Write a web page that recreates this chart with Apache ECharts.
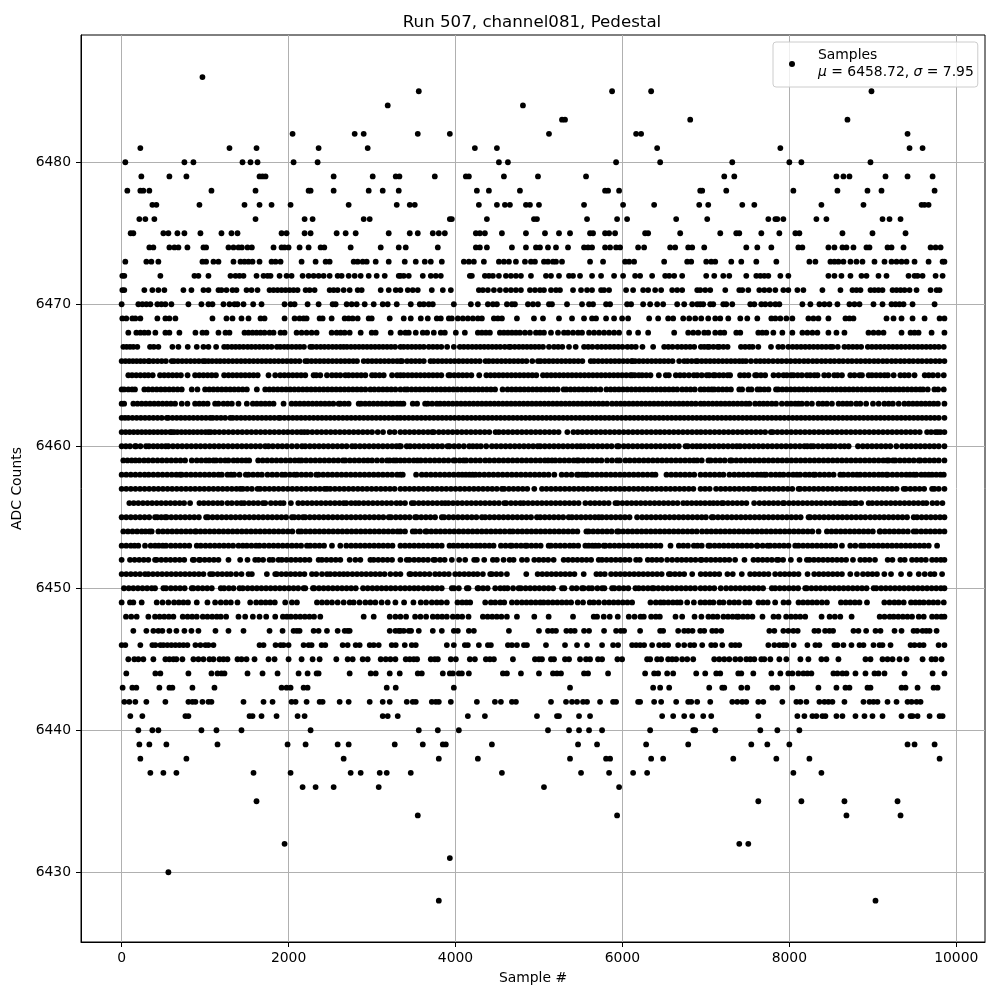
<!DOCTYPE html>
<html><head><meta charset="utf-8">
<style>html,body{margin:0;padding:0;background:#fff}#c{width:1000px;height:1000px}</style>
<script src="https://cdn.jsdelivr.net/npm/echarts@6/dist/echarts.min.js"></script>
</head><body><div id="c"></div>
<script>
const xTicks=[0,2000,4000,6000,8000,10000];
const yTicks=[6430,6440,6450,6460,6470,6480];
const adc6486=[968];
const adc6485=[3560,5876,6344,8984];
const adc6484=[3188,4808];
const adc6483=[5276,5312,6812,8696];
const adc6482=[2048,2792,2900,3548,3932,5120,6164,6224,9416];
const adc6481=[224,1292,1616,2360,2948,4232,4496,6416,7892,9440,9596];
const adc6480=[44,752,860,1448,1544,1628,2060,2348,4520,4628,5924,6452,7316,8000,8144,8972];
const adc6479=[236,572,776,1652,1688,1724,2540,3008,3284,3328,3752,4124,4160,4580,4988,5564,7220,7340,8564,8648,8720,9152,9416,9716];
const adc6478=[68,224,260,332,1076,1604,2240,2264,2540,2960,3128,3320,4256,4400,4772,5792,5828,5960,6932,6956,7244,8048,8576,8936,9104,9740];
const adc6477=[368,416,932,1472,1652,1796,2024,2720,3296,3452,3512,4280,4496,4592,4652,4844,4892,5000,5540,6008,6380,6920,7028,7436,7580,8384,8888,9584,9620,9668];
const adc6476=[212,284,392,1604,2192,2288,2900,2972,3932,3956,4376,4940,4976,5576,5936,6056,6644,7016,7748,7832,7856,7928,8324,8444,9116,9200,9332];
const adc6475=[108,140,500,560,668,752,944,1196,1316,1388,1916,1976,2192,2264,2576,2684,2804,3200,3452,3548,3728,3800,3872,4244,4292,4352,4556,4844,5072,5240,5372,5612,5648,5792,5840,5912,6272,6308,6692,7172,7364,7400,7664,7880,8072,8120,8636,8996,9392];
const adc6474=[332,380,572,632,680,788,980,1012,1280,1340,1400,1440,1508,1560,1820,1916,1952,2000,2132,2240,2384,2428,2744,3104,3320,3404,3788,4244,4292,4376,4676,4844,4964,5012,5108,5204,5348,5540,5588,5636,5792,5852,5924,5972,6188,6260,6572,6632,6788,6836,6980,7484,7616,7784,8108,8156,8468,8540,8636,8684,8768,8924,8960,9176,9224,9368,9692,9752,9812];
const adc6473=[44,296,356,440,968,1012,1100,1160,1340,1424,1472,1520,1568,1652,1796,1844,1904,2156,2324,2444,2492,2780,2828,2888,2936,3044,3200,3392,3524,3632,3704,3836,4100,4160,4220,4340,4520,4580,4640,4724,4832,4904,4952,5060,5108,5168,5204,5276,5612,5768,6032,6080,6140,6500,6776,6824,7004,7064,7112,7304,7424,7604,7844,8240,8312,8492,8540,8588,8648,8732,8804,8876,9020,9140,9224,9284,9344,9404,9500,9668,9836,9858];
const adc6472=[8,32,464,872,920,1040,1304,1364,1412,1460,1616,1700,1748,1784,1892,1976,2036,2168,2240,2300,2360,2420,2492,2588,2636,2720,2792,2864,2960,3056,3152,3320,3340,3380,3440,3608,3704,3764,3824,4172,4196,4352,4400,4448,4520,4604,4664,4724,4784,4904,5084,5144,5240,5360,5408,5492,5636,5744,5900,6008,6152,6212,6356,6512,6560,6620,6716,7004,7100,7208,7280,7484,7604,7652,7700,7748,7892,7988,8468,8540,8624,8732,8864,8924,9068,9164,9428,9500,9536,9596,9752,9836];
const adc6471=[8,32,272,368,440,512,740,836,980,1040,1160,1196,1256,1328,1376,1496,1556,1628,1772,1820,1868,1916,1964,2012,2060,2108,2204,2252,2312,2492,2540,2588,2660,2732,2828,2876,3104,3200,3284,3340,3428,3488,3548,3716,3848,3944,4280,4328,4388,4460,4532,4604,4664,4724,4784,4892,4952,5012,5060,5144,5204,5252,5408,5504,5576,5636,5744,5780,5840,6044,6128,6248,6308,6392,6464,6596,6656,6716,6896,6932,6992,7052,7232,7400,7436,7508,7640,7700,7760,7832,7928,7988,8096,8168,8396,8612,8756,8804,8852,8972,9020,9068,9116,9236,9284,9332,9380,9440,9524,9692,9764,9800];
const adc6470=[0,200,248,296,344,428,476,524,596,800,956,1040,1088,1220,1292,1352,1388,1460,1576,1676,1952,2024,2072,2228,2360,2528,2564,2696,2756,2816,2912,3020,3128,3188,3296,3464,3572,3620,3680,3728,3980,4184,4268,4388,4448,4496,4616,4676,4712,4868,4928,4988,5120,5156,5336,5516,5600,5648,5804,5852,6056,6104,6248,6332,6416,6488,6656,6740,6836,6896,6932,6968,7052,7088,7208,7244,7316,7532,7580,7664,7712,7772,7832,7880,8156,8252,8360,8420,8480,8576,8720,8780,8840,9008,9116,9224,9272,9320,9368,9476,9740];
const adc6469=[8,56,128,164,224,428,524,572,644,1088,1256,1328,1436,1520,1664,1712,1952,2072,2132,2180,2216,2372,2408,2516,2672,2720,2768,2828,2960,2996,3212,3380,3464,3584,3668,3776,3824,3920,3956,4028,4088,4148,4208,4268,4316,4460,4508,4556,4736,4940,5048,5240,5396,5540,5636,5684,5804,5900,5996,6068,6320,6428,6548,6608,6728,6800,6872,6944,7028,7112,7172,7268,7412,7496,7616,7784,7832,7892,7964,8036,8228,8288,8348,8468,8672,8720,8768,9164,9248,9344,9476,9620,9800,9858];
const adc6468=[80,176,224,272,320,404,524,572,692,884,968,1016,1160,1244,1292,1472,1520,1568,1616,1664,1712,1772,1820,1904,1952,2096,2156,2216,2276,2336,2516,2576,2624,2672,2732,2864,2996,3044,3224,3340,3400,3440,3524,3608,3660,3740,3824,3872,4004,4112,4268,4316,4364,4412,4532,4580,4628,4676,4724,4772,4832,4892,4964,5012,5060,5144,5228,5300,5348,5408,5468,5516,5600,5660,5720,5780,5840,5900,5960,6080,6188,6308,6620,6788,6848,6908,6980,7028,7112,7172,7220,7364,7412,7628,7676,7724,7808,7916,8036,8156,8216,8276,8336,8468,8564,8660,8948,9008,9068,9128,9344,9452,9500,9548,9704,9858];
const adc6467=[20,60,100,140,188,340,385,440,608,680,792,900,980,1040,1132,1228,1270,1320,1366,1412,1460,1510,1556,1604,1652,1700,1748,1796,1860,1900,1948,1992,2040,2090,2136,2184,2260,2288,2336,2384,2430,2478,2526,2572,2620,2660,2700,2748,2796,2844,2892,2940,2988,3036,3084,3132,3180,3228,3276,3340,3380,3428,3476,3524,3572,3620,3680,3730,3780,3830,3900,3980,4052,4100,4150,4200,4248,4296,4344,4392,4440,4488,4536,4590,4640,4660,4710,4760,4808,4856,4904,4952,5000,5048,5120,5180,5230,5280,5360,5440,5540,5590,5640,5700,5750,5800,5850,5900,5950,6000,6060,6110,6160,6240,6368,6500,6550,6600,6660,6710,6760,6810,6860,6940,6980,7020,7040,7090,7140,7160,7210,7260,7420,7470,7520,7560,7628,7780,7868,7920,7988,8040,8090,8140,8190,8240,8290,8340,8390,8440,8490,8520,8580,8660,8710,8760,8810,8860,8940,8990,9040,9090,9140,9190,9240,9290,9340,9390,9440,9490,9540,9590,9640,9690,9740,9790,9850];
const adc6466=[0,45,90,135,180,225,270,320,332,380,430,480,530,600,628,675,725,775,825,875,925,975,1000,1040,1085,1135,1180,1230,1280,1330,1380,1430,1480,1530,1580,1630,1680,1730,1780,1830,1880,1930,1980,2030,2080,2130,2200,2228,2275,2325,2375,2425,2475,2525,2575,2625,2675,2725,2775,2820,2900,2950,3000,3050,3100,3150,3200,3250,3300,3340,3360,3420,3470,3520,3570,3620,3700,3740,3790,3840,3890,3940,3990,4040,4090,4140,4190,4240,4290,4360,4400,4450,4500,4550,4600,4650,4700,4750,4800,4850,4920,4988,5020,5070,5120,5170,5220,5270,5320,5370,5420,5470,5520,5620,5660,5710,5760,5810,5860,5910,5960,6010,6060,6110,6120,6152,6200,6250,6300,6350,6400,6450,6500,6550,6600,6680,6740,6780,6830,6880,6900,6950,7000,7050,7100,7150,7200,7250,7300,7350,7400,7440,7480,7540,7600,7650,7700,7750,7805,7860,7910,7965,8015,8070,8120,8175,8225,8280,8330,8385,8435,8490,8540,8595,8645,8700,8750,8805,8855,8910,8960,9015,9065,9120,9170,9225,9275,9330,9380,9435,9485,9540,9590,9645,9695,9750,9800,9858];
const adc6465=[80,125,175,225,275,320,372,460,510,560,610,660,710,790,880,930,980,1030,1080,1130,1228,1280,1330,1380,1430,1480,1530,1580,1630,1760,1840,1900,1950,2000,2050,2100,2150,2200,2300,2332,2380,2460,2520,2570,2620,2680,2720,2770,2820,2870,2920,3000,3040,3090,3140,3240,3300,3340,3380,3430,3480,3530,3580,3630,3680,3730,3780,3830,3916,3936,3986,4036,4086,4136,4190,4284,4370,4420,4470,4520,4570,4620,4670,4720,4770,4820,4870,4920,4968,5048,5096,5146,5196,5246,5296,5346,5396,5446,5496,5546,5596,5646,5696,5746,5796,5846,5896,5946,5996,6046,6096,6116,6148,6196,6236,6286,6336,6436,6520,6556,6640,6690,6740,6796,6856,6896,6950,7010,7040,7090,7110,7160,7210,7260,7290,7410,7460,7510,7590,7610,7660,7710,7810,7870,7930,7970,8020,8050,8100,8150,8210,8250,8300,8338,8418,8470,8538,8578,8630,8730,8780,8840,8870,8950,8990,9040,9090,9140,9180,9250,9330,9380,9430,9500,9622,9670,9720,9780,9850];
const adc6464=[0,30,80,125,160,272,320,370,420,470,520,570,620,670,720,840,908,1000,1050,1100,1150,1200,1250,1300,1350,1400,1450,1500,1620,1720,1770,1820,1870,1920,1970,2020,2070,2120,2170,2220,2270,2320,2370,2420,2470,2520,2570,2620,2670,2720,2770,2820,2870,2920,2980,3028,3080,3130,3180,3230,3280,3340,3392,3424,3474,3524,3574,3624,3674,3724,3774,3824,3874,3924,3974,4024,4074,4124,4174,4224,4274,4324,4374,4424,4474,4564,4624,4674,4724,4774,4824,4874,4924,4974,5024,5074,5124,5174,5224,5296,5328,5378,5428,5478,5528,5578,5628,5678,5736,5808,5858,5908,5958,6008,6058,6108,6158,6208,6258,6308,6358,6408,6458,6508,6558,6608,6656,6716,6766,6816,6866,6936,6980,7030,7070,7100,7150,7200,7250,7300,7400,7434,7510,7546,7618,7650,7700,7750,7840,7866,7916,7966,8016,8066,8116,8166,8216,8266,8316,8366,8416,8466,8516,8566,8616,8666,8716,8766,8816,8866,8916,8966,9016,9066,9116,9166,9216,9266,9316,9366,9416,9466,9516,9566,9602,9658,9738,9782,9850];
const adc6463=[0,30,140,190,240,290,340,390,440,490,540,590,640,720,788,880,930,980,1030,1120,1160,1220,1270,1320,1400,1500,1572,1620,1670,1720,1770,1820,1940,2036,2086,2136,2186,2236,2286,2336,2386,2436,2486,2536,2600,2620,2670,2720,2840,2868,2918,2968,3018,3068,3118,3168,3220,3252,3300,3340,3376,3488,3540,3636,3668,3720,3776,3816,3866,3916,3966,4016,4066,4116,4166,4216,4266,4316,4366,4416,4466,4516,4566,4616,4666,4716,4766,4816,4866,4916,4966,5016,5066,5116,5166,5216,5266,5316,5366,5416,5466,5516,5566,5616,5666,5716,5766,5816,5876,5928,5978,6028,6078,6128,6178,6228,6278,6328,6378,6428,6478,6528,6578,6628,6678,6728,6778,6828,6878,6936,6980,7030,7080,7130,7180,7230,7280,7330,7380,7430,7480,7522,7590,7642,7690,7738,7790,7840,7910,7970,8020,8070,8110,8150,8210,8270,8350,8400,8450,8510,8590,8640,8690,8738,8802,8850,8920,9002,9070,9138,9190,9240,9310,9378,9430,9480,9530,9580,9630,9680,9730,9780,9858];
const adc6462=[0,40,80,130,180,230,280,330,380,430,480,540,560,610,660,710,760,810,860,910,960,1010,1060,1092,1140,1190,1240,1300,1332,1380,1430,1480,1530,1580,1630,1680,1730,1780,1830,1880,1900,1950,2000,2050,2100,2150,2200,2250,2300,2350,2400,2450,2500,2550,2600,2650,2700,2750,2800,2850,2900,2950,3000,3050,3100,3150,3200,3250,3300,3340,3390,3440,3490,3540,3590,3640,3690,3740,3790,3840,3890,3940,3990,4040,4090,4140,4190,4240,4290,4340,4390,4440,4490,4540,4590,4640,4690,4740,4790,4840,4890,4940,4990,5040,5090,5140,5190,5240,5290,5340,5390,5440,5490,5540,5590,5640,5690,5740,5790,5840,5890,5940,5990,6040,6090,6140,6190,6240,6290,6340,6390,6440,6490,6540,6590,6640,6690,6740,6790,6840,6890,6940,6990,7040,7090,7140,7190,7240,7290,7340,7390,7440,7490,7540,7590,7640,7690,7740,7790,7840,7890,7940,7990,8040,8090,8140,8190,8240,8290,8340,8390,8440,8490,8540,8590,8640,8690,8740,8790,8840,8890,8940,8990,9040,9090,9140,9190,9240,9290,9340,9390,9440,9490,9540,9590,9640,9690,9740,9790,9858];
const adc6461=[0,48,96,144,192,240,288,336,384,432,480,528,580,600,628,668,716,764,812,860,908,956,1004,1040,1068,1116,1170,1225,1280,1335,1390,1445,1500,1555,1610,1665,1720,1775,1830,1885,1940,1990,2045,2100,2150,2188,2228,2284,2340,2395,2450,2505,2560,2615,2670,2725,2780,2835,2890,2945,3000,3068,3132,3212,3270,3340,3395,3450,3505,3560,3615,3670,3720,3740,3800,3855,3910,3965,4020,4075,4130,4185,4240,4295,4350,4405,4480,4520,4575,4630,4685,4740,4795,4850,4905,4960,5015,5070,5125,5180,5235,5340,5412,5465,5520,5575,5630,5685,5740,5795,5850,5905,5960,6015,6070,6125,6180,6235,6290,6345,6400,6452,6505,6560,6615,6670,6725,6780,6835,6890,6940,6995,7050,7105,7160,7215,7270,7325,7380,7435,7490,7545,7600,7655,7710,7778,7802,7857,7912,7967,8022,8077,8132,8187,8242,8297,8352,8407,8462,8517,8572,8627,8682,8737,8792,8847,8902,8957,9012,9067,9122,9177,9232,9287,9342,9397,9452,9507,9562,9650,9698,9750,9778,9810,9858];
const adc6460=[0,50,100,160,172,225,292,328,380,430,480,528,560,615,670,725,780,835,890,945,1000,1055,1110,1165,1220,1275,1330,1385,1440,1495,1550,1605,1660,1720,1760,1812,1870,1925,1980,2040,2100,2160,2200,2255,2310,2365,2420,2475,2530,2585,2640,2695,2760,2800,2855,2910,2965,3020,3075,3130,3185,3240,3292,3328,3345,3416,3456,3510,3565,3620,3675,3730,3785,3840,3904,3928,3985,4040,4100,4164,4208,4256,4304,4368,4436,4490,4545,4600,4655,4710,4765,4820,4875,4930,4984,5016,5070,5125,5180,5235,5290,5345,5400,5455,5500,5544,5596,5650,5705,5760,5815,5870,5936,5956,6016,6070,6125,6180,6235,6290,6345,6400,6455,6510,6565,6620,6675,6756,6784,6840,6890,6936,6990,7045,7100,7155,7210,7265,7320,7370,7410,7465,7520,7575,7630,7685,7740,7795,7850,7905,7960,8015,8070,8125,8180,8215,8258,8290,8345,8400,8455,8500,8550,8610,8660,8710,8822,8880,8935,8990,9045,9100,9155,9210,9282,9350,9405,9460,9515,9570,9625,9680,9735,9790,9858];
const adc6459=[20,70,120,165,212,268,320,375,430,485,540,595,650,705,760,840,900,955,1010,1050,1100,1132,1185,1240,1280,1340,1388,1440,1490,1528,1636,1690,1745,1800,1855,1910,1965,2020,2075,2124,2156,2210,2265,2320,2375,2430,2485,2540,2595,2652,2680,2735,2790,2845,2900,2950,3000,3060,3120,3180,3212,3260,3292,3340,3390,3445,3500,3544,3584,3640,3695,3750,3805,3860,3915,3976,3996,4050,4096,4128,4185,4240,4295,4356,4408,4465,4520,4575,4630,4685,4740,4795,4850,4905,4960,5015,5070,5110,5156,5196,5250,5305,5360,5415,5456,5476,5530,5585,5640,5695,5748,5816,5875,5936,5968,6036,6088,6145,6200,6255,6310,6365,6420,6475,6530,6585,6640,6695,6750,6805,6856,6896,6950,7030,7058,7115,7170,7225,7290,7310,7365,7420,7475,7530,7585,7640,7695,7750,7805,7860,7915,7970,8025,8080,8135,8190,8245,8300,8355,8410,8465,8520,8575,8630,8685,8740,8795,8850,8905,8960,9015,9070,9125,9170,9190,9242,9270,9325,9380,9435,9490,9550,9570,9625,9680,9735,9790,9858];
const adc6458=[0,55,110,165,220,275,324,380,435,490,545,600,655,700,720,775,830,885,940,995,1050,1105,1160,1200,1268,1310,1348,1412,1488,1520,1575,1630,1680,1748,1805,1860,1920,1960,2015,2068,2100,2155,2210,2265,2332,2360,2415,2470,2525,2580,2635,2690,2745,2800,2855,2910,2965,3020,3075,3130,3185,3240,3300,3340,3368,3528,3596,3650,3705,3760,3815,3870,3925,3980,4035,4080,4124,4168,4205,4240,4288,4345,4400,4455,4510,4565,4620,4675,4730,4785,4840,4895,4950,5005,5060,5115,5184,5272,5330,5390,5456,5476,5520,5556,5584,5640,5695,5750,5805,5860,5915,5970,6025,6080,6135,6190,6245,6300,6355,6396,6528,6585,6640,6695,6750,6805,6860,6936,6994,7050,7105,7162,7210,7282,7340,7395,7450,7505,7560,7615,7660,7698,7722,7780,7835,7885,7930,7990,8045,8090,8130,8190,8240,8290,8310,8365,8420,8475,8530,8610,8650,8705,8760,8810,8850,8905,8960,9015,9070,9115,9162,9178,9235,9290,9345,9400,9445,9490,9522,9580,9625,9670,9710,9760,9810,9850];
const adc6457=[0,55,110,165,220,275,330,385,440,495,550,605,660,715,770,825,880,935,990,1045,1100,1155,1210,1265,1320,1375,1420,1452,1505,1560,1628,1660,1715,1770,1825,1880,1935,1990,2045,2100,2155,2210,2265,2320,2375,2430,2460,2500,2555,2610,2665,2720,2775,2830,2885,2940,2995,3050,3105,3160,3215,3270,3340,3395,3450,3505,3560,3615,3670,3725,3780,3835,3890,3945,4000,4055,4110,4165,4220,4275,4330,4385,4440,4495,4556,4584,4640,4695,4750,4805,4860,4944,5036,5090,5145,5200,5255,5310,5365,5420,5475,5530,5585,5640,5695,5750,5805,5860,5915,5970,6025,6080,6135,6190,6245,6300,6355,6410,6465,6520,6575,6630,6685,6740,6795,6850,6936,6990,7045,7122,7178,7233,7288,7343,7398,7453,7508,7562,7594,7650,7705,7760,7815,7870,7925,7980,8035,8110,8130,8185,8240,8295,8350,8405,8460,8515,8570,8625,8680,8735,8790,8845,8900,8955,9010,9065,9120,9175,9230,9285,9370,9394,9450,9505,9560,9615,9710,9738,9790,9858];
const adc6456=[92,145,200,255,310,365,420,475,530,585,640,695,748,820,932,985,1040,1095,1150,1200,1268,1320,1380,1432,1468,1525,1580,1635,1692,1720,1788,1845,1900,1940,2028,2116,2170,2225,2280,2335,2390,2445,2500,2555,2610,2660,2692,2750,2800,2844,2900,2955,3010,3065,3120,3175,3230,3292,3340,3395,3476,3504,3560,3615,3670,3725,3780,3835,3876,3916,3970,4025,4080,4135,4190,4245,4300,4355,4410,4465,4520,4584,4608,4665,4720,4776,4816,4870,4925,4980,5035,5090,5145,5200,5255,5310,5365,5420,5475,5556,5616,5670,5725,5780,5835,5916,5944,6000,6055,6110,6165,6220,6275,6330,6385,6440,6495,6550,6605,6660,6728,6776,6830,6885,6936,6990,7045,7090,7138,7190,7210,7265,7320,7375,7430,7485,7578,7642,7700,7755,7810,7865,7922,7938,7995,8050,8105,8160,8215,8270,8325,8380,8435,8490,8545,8600,8642,8678,8730,8778,8802,8860,8950,8994,9050,9105,9160,9215,9270,9325,9380,9435,9490,9545,9600,9642,9714,9770,9834];
const adc6455=[0,55,110,165,220,275,330,400,428,475,520,540,595,650,705,760,815,870,925,1012,1036,1090,1145,1200,1255,1310,1365,1420,1475,1530,1585,1640,1695,1750,1805,1860,1915,1970,2040,2068,2120,2172,2200,2255,2310,2365,2420,2475,2530,2585,2640,2695,2750,2805,2860,2915,2970,3025,3080,3135,3200,3228,3285,3340,3395,3450,3516,3536,3590,3645,3700,3755,3836,3864,3920,3975,4030,4085,4140,4195,4250,4316,4356,4410,4465,4520,4575,4630,4685,4740,4795,4850,4905,4976,5016,5070,5125,5180,5235,5290,5356,5396,5450,5505,5560,5615,5670,5716,5756,5810,5865,5920,5975,6030,6085,6176,6236,6290,6345,6400,6455,6510,6565,6620,6675,6730,6785,6840,6896,6950,7000,7070,7090,7145,7200,7255,7310,7365,7420,7475,7530,7585,7640,7695,7750,7805,7860,7915,7970,8025,8080,8135,8230,8250,8305,8360,8415,8470,8525,8580,8635,8690,8745,8800,8855,8910,8970,9025,9080,9135,9190,9245,9300,9355,9410,9490,9530,9585,9640,9695,9750,9805,9858];
const adc6454=[20,75,130,185,240,285,332,360,440,495,550,605,660,715,770,825,880,892,945,1000,1055,1110,1165,1220,1275,1330,1385,1440,1495,1550,1605,1660,1715,1770,1825,1880,1935,1990,2045,2120,2152,2205,2260,2315,2370,2425,2480,2535,2590,2645,2700,2755,2810,2865,2920,2975,3030,3085,3140,3195,3250,3305,3340,3395,3488,3520,3575,3640,3656,3710,3765,3820,3875,3930,3985,4040,4095,4150,4205,4260,4315,4370,4425,4480,4535,4590,4648,4688,4745,4800,4855,4910,4965,5020,5075,5130,5185,5240,5295,5350,5405,5460,5568,5596,5650,5705,5760,5815,5870,5936,5956,6010,6065,6120,6175,6230,6285,6340,6395,6450,6505,6560,6615,6670,6725,6780,6835,6890,6954,7010,7065,7120,7175,7230,7285,7340,7395,7450,7505,7560,7615,7670,7725,7780,7835,7890,7945,8000,8055,8110,8165,8220,8275,8350,8450,8505,8560,8615,8670,8725,8780,8835,8890,8945,9000,9082,9090,9145,9200,9255,9310,9365,9420,9490,9522,9580,9635,9690,9745,9800,9858];
const adc6453=[0,55,110,155,200,280,348,400,445,492,532,590,645,700,755,810,900,948,1005,1060,1115,1170,1225,1280,1335,1400,1452,1500,1555,1610,1652,1708,1765,1820,1875,1930,1985,2040,2095,2150,2220,2260,2315,2370,2425,2520,2620,2692,2750,2805,2860,2915,2970,3025,3080,3135,3190,3245,3340,3395,3450,3505,3560,3615,3670,3725,3780,3835,3928,3976,4030,4085,4140,4195,4248,4296,4350,4405,4456,4544,4600,4656,4676,4730,4785,4836,4856,4910,4965,5020,5116,5144,5200,5255,5310,5368,5416,5470,5556,5596,5640,5676,5716,5776,5796,5850,5905,5960,6015,6070,6125,6180,6235,6290,6345,6400,6455,6576,6676,6730,6785,6856,6900,6950,7030,7050,7105,7160,7215,7270,7325,7380,7435,7490,7545,7610,7618,7680,7738,7770,7825,7880,7935,7990,8070,8110,8165,8220,8275,8330,8385,8440,8495,8550,8630,8730,8790,8858,8898,8955,9010,9065,9120,9175,9230,9285,9340,9395,9450,9505,9560,9615,9670,9770];
const adc6452=[0,100,155,210,265,320,400,420,475,530,585,640,695,750,852,868,928,940,995,1050,1105,1160,1280,1420,1508,1600,1640,1695,1772,1812,1880,1920,1975,2030,2085,2140,2195,2250,2360,2400,2455,2510,2565,2620,2732,2800,2860,2980,3020,3075,3130,3185,3240,3340,3416,3448,3505,3560,3615,3670,3736,3756,3815,3870,3956,4044,4116,4224,4256,4344,4448,4496,4576,4648,4696,4796,4856,4944,5000,5055,5110,5176,5296,5350,5405,5460,5515,5570,5625,5716,5756,5810,5865,5920,5975,6030,6085,6164,6208,6304,6356,6410,6465,6536,6596,6656,6710,6765,6820,6875,6936,6950,7005,7060,7115,7170,7225,7280,7350,7462,7570,7625,7680,7735,7790,7850,7870,7925,8018,8122,8210,8242,8295,8350,8405,8460,8515,8570,8625,8680,8762,8850,8905,8960,9026,9178,9235,9330,9382,9470,9525,9580,9635,9710,9762,9815,9858];
const adc6451=[0,55,110,165,220,280,320,375,430,485,540,595,650,705,760,815,870,925,980,1060,1092,1150,1205,1260,1308,1372,1436,1520,1560,1740,1840,1860,1915,1970,2025,2080,2135,2190,2280,2332,2400,2460,2500,2555,2610,2660,2708,2765,2820,2875,2930,2985,3040,3095,3150,3220,3284,3340,3448,3464,3520,3575,3630,3688,3756,3808,3865,3920,3996,4048,4105,4160,4215,4264,4328,4416,4436,4490,4545,4616,4848,4984,5040,5095,5150,5205,5260,5315,5370,5425,5536,5688,5736,5788,5864,5920,5975,6030,6085,6140,6195,6250,6305,6360,6415,6470,6556,6576,6630,6685,6740,6836,6938,6995,7050,7105,7160,7258,7322,7430,7530,7585,7640,7695,7750,7830,7890,7945,8000,8055,8110,8218,8298,8355,8410,8465,8520,8575,8630,8730,8810,8882,8940,8995,9050,9138,9218,9338,9442,9550,9622,9690,9738,9830];
const adc6450=[28,85,140,195,250,305,360,400,500,532,590,645,700,755,840,860,915,970,1025,1080,1188,1228,1285,1340,1412,1452,1510,1565,1620,1675,1730,1785,1840,1895,1950,2005,2060,2115,2180,2200,2292,2308,2365,2420,2475,2530,2585,2640,2695,2750,2805,2892,2948,3005,3060,3115,3170,3225,3280,3340,3395,3450,3505,3556,3616,3670,3725,3780,3835,3956,3984,4040,4136,4156,4264,4276,4330,4385,4476,4536,4584,4624,4690,4756,4784,4840,4895,4950,5005,5060,5115,5170,5276,5304,5396,5450,5516,5536,5596,5636,5700,5756,5784,5876,5904,5960,6015,6070,6156,6196,6250,6305,6356,6376,6430,6485,6540,6595,6650,6705,6760,6815,6870,6936,6990,7045,7100,7178,7242,7300,7355,7410,7465,7520,7575,7630,7685,7790,7830,7885,7940,7995,8050,8105,8190,8210,8265,8320,8375,8430,8485,8540,8595,8650,8705,8760,8815,8870,8925,9010,9042,9100,9155,9210,9265,9320,9375,9430,9485,9540,9595,9650,9705,9760,9815,9858];
const adc6449=[0,100,140,240,420,490,560,628,685,740,795,900,1028,1120,1188,1250,1308,1388,1540,1612,1670,1725,1780,1835,1960,2040,2100,2340,2400,2460,2520,2588,2660,2732,2780,2850,2920,2980,3040,3115,3188,3280,3384,3496,3584,3648,3716,3775,3830,3896,4024,4080,4130,4176,4356,4424,4476,4536,4584,4676,4736,4795,4850,4905,4960,5016,5056,5110,5165,5220,5275,5330,5385,5464,5528,5608,5656,5716,5784,5840,5895,5950,6005,6060,6116,6336,6400,6456,6496,6550,6605,6656,6696,6776,6856,6936,6990,7045,7090,7162,7210,7282,7340,7395,7470,7522,7630,7685,7740,7830,7930,7990,8110,8165,8220,8275,8330,8390,8450,8618,8675,8730,8785,8840,8930,9138,9200,9258,9310,9370,9458,9510,9560,9610,9670,9725,9780,9850];
const adc6448=[52,115,180,320,400,455,510,565,620,732,790,845,900,972,1028,1085,1140,1188,1252,1400,1480,1572,1652,1732,1840,1932,1980,2028,2085,2140,2195,2250,2305,2380,2900,3020,3212,3280,3340,3408,3516,3580,3648,3728,3785,3840,3896,3968,4025,4080,4156,4328,4385,4440,4495,4550,4616,4736,4944,5116,5408,5656,5696,5776,5848,5944,6076,6145,6216,6256,6344,6400,6448,6636,6716,6864,6946,7030,7085,7138,7210,7265,7320,7370,7390,7445,7500,7558,7678,7810,7870,7962,8020,8075,8130,8190,8386,8482,8545,8610,8746,9082,9140,9202,9250,9305,9360,9415,9470,9550,9610,9710,9765,9820,9858];
const adc6447=[140,296,380,440,488,572,656,752,836,920,1124,1280,1460,1772,1928,2060,2100,2132,2300,2360,2460,2588,2672,2708,2732,3212,3280,3320,3340,3380,3440,3468,3560,3728,3836,3980,4028,4160,4220,4640,5000,5108,5160,5204,5328,5380,5428,5540,5600,5780,5924,5980,6020,6212,6452,6488,6668,6740,6788,6840,6932,6980,7076,7124,7184,7760,7820,7928,7988,8048,8100,8300,8348,8428,8480,8524,8768,8828,8920,9032,9092,9260,9344,9488,9532,9596,9640,9680,9764];
const adc6446=[0,44,224,368,404,464,500,548,596,644,692,740,788,884,944,1004,1040,1100,1652,1700,1844,1904,1940,2000,2180,2240,2276,2396,2440,2648,2708,2804,2852,2972,3020,3080,3236,3284,3392,3476,3524,3896,3980,4112,4148,4280,4388,4424,4628,4676,4736,4820,4856,5084,5312,5456,5576,5756,5888,5948,6116,6164,6212,6260,6356,6440,6500,6548,6668,6740,6812,6860,6956,7064,7112,7196,7304,7352,7400,7748,7820,7880,7928,7964,8052,8216,8312,8360,8540,8576,8648,8744,8840,8888,9008,9080,9116,9212,9452,9500,9560,9608,9788,9858];
const adc6445=[80,152,200,260,380,524,572,620,656,728,860,920,980,1052,1100,1172,1220,1268,1388,1436,1496,1592,1760,1832,2000,2156,2288,2372,2572,2708,2768,2888,2948,3104,3164,3220,3280,3404,3452,3500,3540,3704,3752,3788,3944,4004,4172,4232,4364,4412,4460,4688,4952,5000,5036,5144,5180,5312,5360,5492,5564,5612,5708,5756,5940,5996,6296,6332,6416,6464,6548,6596,6644,6716,6776,6848,7100,7160,7220,7280,7352,7412,7484,7532,7580,7664,7700,7772,7880,7964,8132,8228,8384,8444,8588,8912,8972,9116,9176,9236,9320,9404,9596,9704,9752,9824];
const adc6444=[56,404,464,800,1076,1148,1196,1232,1508,1688,1868,2120,2228,2336,2360,2732,2984,3044,3212,3332,3548,3596,3848,3932,3968,4040,4076,4160,4568,4616,4784,5000,5168,5216,5264,5540,5588,5828,6272,6380,6428,6536,6608,6884,6992,7124,7172,7388,7424,7568,7784,7892,7988,8036,8108,8168,8216,8264,8528,8576,8636,8684,8792,8912,9020,9068,9140,9380,9716,9858];
const adc6443=[12,128,176,452,572,608,848,1112,1916,1976,2024,2180,2228,3176,3284,3980,5372,6368,6452,6560,7040,7196,7220,7424,7496,7796,7856,8036,8348,8564,8672,8720,8936,8972,9344,9392,9536,9728,9776];
const adc6442=[32,92,164,296,524,800,848,884,968,1040,1076,1460,1700,1808,2036,2084,2216,2372,2408,2612,2720,2972,3128,3212,3416,3488,3524,3716,3764,3800,3944,4256,4472,4544,4676,4724,5144,5324,5396,5456,5528,5576,5732,5888,5924,6188,6212,6380,6464,6644,6788,6824,6896,7052,7316,7376,7436,7484,7628,7688,7916,8084,8132,8204,8360,8420,8468,8516,8660,8888,8960,9008,9056,9176,9284,9416,9464,9524,9572];
const adc6441=[104,248,764,800,1532,1568,1676,1856,2108,2192,3128,3188,3308,4148,4352,4976,5216,5240,5480,5612,6476,6608,6740,6836,6968,7064,7628,8096,8180,8276,8324,8396,8432,8564,8636,8792,8900,8996,9116,9344,9452,9476,9536,9680,9800,9836];
const adc6440=[200,368,440,956,1136,1436,2264,3560,3788,4040,5108,5360,5480,5600,5756,6332,6848,6872,7112,7652,7856,8120];
const adc6439=[212,332,536,1148,1988,2204,2588,2720,3272,3608,3848,3884,4436,5468,5696,6284,6788,7544,7736,8000,9416,9500,9740];
const adc6438=[224,776,2660,3800,4268,5372,5804,5852,6344,6488,7328,7844,8240,9800];
const adc6437=[344,500,656,1580,2024,2744,2864,3092,3176,3464,4556,5504,5840,6128,6296,8048,8384];
const adc6436=[2168,2324,2540,3080,5060,5960];
const adc6435=[1616,7628,8144,8660,9296];
const adc6434=[3548,5936,8684,9332];
const adc6432=[1952,7400,7508];
const adc6431=[3932];
const adc6430=[560];
const adc6428=[3800,9032];

const levels=[[6486,adc6486],[6485,adc6485],[6484,adc6484],[6483,adc6483],[6482,adc6482],[6481,adc6481],[6480,adc6480],[6479,adc6479],[6478,adc6478],[6477,adc6477],[6476,adc6476],[6475,adc6475],[6474,adc6474],[6473,adc6473],[6472,adc6472],[6471,adc6471],[6470,adc6470],[6469,adc6469],[6468,adc6468],[6467,adc6467],[6466,adc6466],[6465,adc6465],[6464,adc6464],[6463,adc6463],[6462,adc6462],[6461,adc6461],[6460,adc6460],[6459,adc6459],[6458,adc6458],[6457,adc6457],[6456,adc6456],[6455,adc6455],[6454,adc6454],[6453,adc6453],[6452,adc6452],[6451,adc6451],[6450,adc6450],[6449,adc6449],[6448,adc6448],[6447,adc6447],[6446,adc6446],[6445,adc6445],[6444,adc6444],[6443,adc6443],[6442,adc6442],[6441,adc6441],[6440,adc6440],[6439,adc6439],[6438,adc6438],[6437,adc6437],[6436,adc6436],[6435,adc6435],[6434,adc6434],[6432,adc6432],[6431,adc6431],[6430,adc6430],[6428,adc6428]];
const points=[];
levels.forEach(([v,xs])=>xs.forEach(x=>points.push([x,v])));

const FF='"DejaVu Sans"';
const seriesName='Samples';
const chart=echarts.init(document.getElementById('c'),null,{renderer:'canvas'});
chart.setOption({
  animation:false,
  backgroundColor:'#fff',
  textStyle:{fontFamily:FF},
  title:{text:'Run 507, channel081, Pedestal',left:527,top:9,textAlign:'center',
    textStyle:{fontFamily:FF,fontSize:16.67,fontWeight:'normal',color:'#000'}},
  grid:{left:81,right:15,top:35,bottom:58,show:true,borderColor:'#000',borderWidth:1,backgroundColor:'transparent',containLabel:false},
  legend:{
    show:true,left:773,top:42,orient:'vertical',
    padding:[5,4,6,16],
    itemWidth:6,itemHeight:6,icon:'circle',
    backgroundColor:'rgba(255,255,255,0.8)',borderColor:'#cccccc',borderWidth:1,borderRadius:3,
    data:[seriesName],
    formatter:()=>'Samples\n{i|μ} = 6458.72, {i|σ} = 7.95',
    textStyle:{fontFamily:FF,fontSize:13.9,color:'#000',lineHeight:17,padding:[0,0,0,18],
      rich:{i:{fontFamily:FF,fontSize:13.9,fontStyle:'italic',color:'#000',lineHeight:17}}}
  },
  xAxis:{type:'value',min:-487,max:10344,name:'Sample #',nameLocation:'middle',nameGap:29,
    nameTextStyle:{fontFamily:FF,fontSize:13.9,color:'#000'},
    axisLine:{show:true,onZero:false,lineStyle:{color:'#000',width:1}},
    axisTick:{show:true,length:5,customValues:xTicks,lineStyle:{color:'#000',width:1}},
    axisLabel:{show:true,margin:9,fontFamily:FF,fontSize:13.9,color:'#000',customValues:xTicks,formatter:v=>String(v)},
    splitLine:{show:true,lineStyle:{color:'#b0b0b0',width:1}}},
  yAxis:{type:'value',min:6425.09,max:6488.96,name:'ADC Counts',nameLocation:'middle',nameGap:48,
    nameTextStyle:{fontFamily:FF,fontSize:13.9,color:'#000'},
    axisLine:{show:true,onZero:false,lineStyle:{color:'#000',width:1}},
    axisTick:{show:true,length:5,customValues:yTicks,lineStyle:{color:'#000',width:1}},
    axisLabel:{show:true,margin:10,fontFamily:FF,fontSize:13.9,color:'#000',customValues:yTicks,formatter:v=>String(v)},
    splitLine:{show:true,lineStyle:{color:'#b0b0b0',width:1}}},
  series:[{name:seriesName,type:'scatter',symbol:'circle',symbolSize:5.8,data:points,
    itemStyle:{color:'#000',opacity:1},z:3,silent:true,clip:true}]
});
</script>
</body></html>
